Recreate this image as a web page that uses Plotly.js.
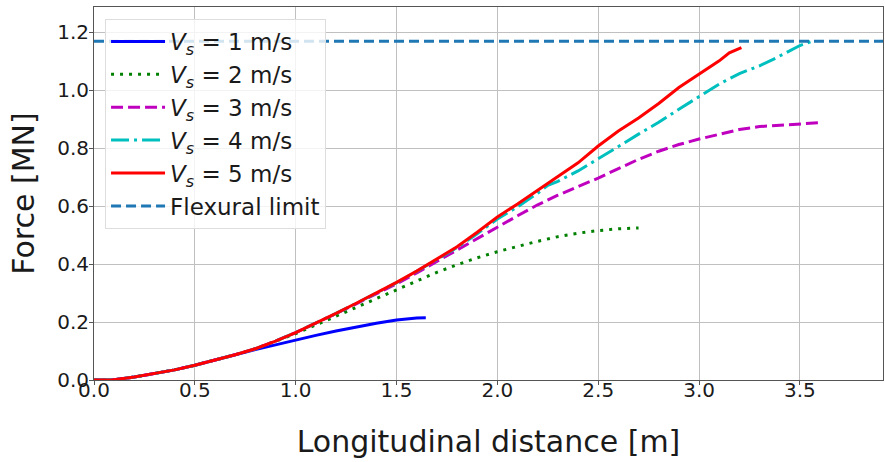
<!DOCTYPE html>
<html>
<head>
<meta charset="utf-8">
<script src="https://cdn.plot.ly/plotly-3.0.1.min.js"></script>
<style>html,body{margin:0;padding:0;background:#fff;}#chart{width:885px;height:462px;}</style>
</head>
<body>
<div id="chart"></div>
<script>
// Shared initial segment (all speeds coincide)
const xStart = [0, 0.05, 0.1, 0.2, 0.3, 0.4, 0.5, 0.6, 0.7];
const yStart = [0, 0, 0.001, 0.01, 0.022, 0.035, 0.051, 0.068, 0.087];

const x1 = [0.8, 0.9, 1.0, 1.1, 1.2, 1.3, 1.4, 1.5, 1.55, 1.6, 1.645];
const y1 = [0.105, 0.122, 0.138, 0.154, 0.169, 0.183, 0.196, 0.207, 0.211, 0.214, 0.215];

const x2 = [0.8, 0.9, 1.0, 1.1, 1.2, 1.3, 1.4, 1.5, 1.6, 1.7, 1.8, 1.9, 2.0, 2.1, 2.2, 2.3, 2.4, 2.5, 2.6, 2.7];
const y2 = [0.108, 0.133, 0.16, 0.19, 0.22, 0.25, 0.28, 0.31, 0.34, 0.372, 0.398, 0.422, 0.443, 0.462, 0.479, 0.495, 0.507, 0.516, 0.522, 0.525];

const x3 = [0.8, 0.9, 1.0, 1.1, 1.2, 1.3, 1.4, 1.5, 1.6, 1.7, 1.8, 1.9, 2.0, 2.1, 2.2, 2.3, 2.4, 2.5, 2.6, 2.7, 2.8, 2.9, 3.0, 3.1, 3.2, 3.3, 3.4, 3.5, 3.61];
const y3 = [0.108, 0.134, 0.164, 0.196, 0.229, 0.263, 0.298, 0.332, 0.37, 0.41, 0.447, 0.487, 0.528, 0.567, 0.605, 0.638, 0.668, 0.697, 0.73, 0.762, 0.79, 0.813, 0.832, 0.849, 0.865, 0.875, 0.88, 0.886, 0.889];

const x4 = [0.8, 0.9, 1.0, 1.1, 1.2, 1.3, 1.4, 1.5, 1.6, 1.7, 1.8, 1.9, 2.0, 2.1, 2.2, 2.25, 2.3, 2.4, 2.5, 2.6, 2.7, 2.8, 2.9, 3.0, 3.1, 3.2, 3.3, 3.37, 3.46, 3.5, 3.56];
const y4 = [0.108, 0.134, 0.164, 0.196, 0.23, 0.265, 0.3, 0.336, 0.375, 0.416, 0.457, 0.505, 0.556, 0.598, 0.645, 0.672, 0.686, 0.722, 0.763, 0.806, 0.849, 0.89, 0.935, 0.98, 1.022, 1.058, 1.085, 1.108, 1.14, 1.155, 1.17];

const x5 = [0.8, 0.9, 1.0, 1.1, 1.2, 1.3, 1.4, 1.5, 1.6, 1.7, 1.8, 1.9, 2.0, 2.1, 2.2, 2.3, 2.4, 2.5, 2.6, 2.7, 2.8, 2.9, 3.0, 3.1, 3.15, 3.21];
const y5 = [0.108, 0.134, 0.164, 0.196, 0.23, 0.265, 0.3, 0.337, 0.376, 0.418, 0.46, 0.51, 0.563, 0.608, 0.655, 0.702, 0.75, 0.808, 0.86, 0.905, 0.955, 1.01, 1.056, 1.102, 1.13, 1.148];

const flexX = [0, 3.95];
const flexY = [1.17, 1.17];

const seriesNames = ['<i>V</i><sub><i>s</i></sub> = 1 m/s', '<i>V</i><sub><i>s</i></sub> = 2 m/s',
  '<i>V</i><sub><i>s</i></sub> = 3 m/s', '<i>V</i><sub><i>s</i></sub> = 4 m/s',
  '<i>V</i><sub><i>s</i></sub> = 5 m/s', 'Flexural limit'];

const xTicks = [0.0, 0.5, 1.0, 1.5, 2.0, 2.5, 3.0, 3.5];
const yTicks = [0.0, 0.2, 0.4, 0.6, 0.8, 1.0, 1.2];

const seriesX = [x1, x2, x3, x4, x5];
const seriesY = [y1, y2, y3, y4, y5];
const colors = ['#0000ff', '#008000', '#bf00bf', '#00bfbf', '#ff0000'];
const dashes = ['solid', '3px,6px', '12px,5px', '18px,5px,3px,5px', 'solid'];

const traces = [];
for (let i = 0; i < 5; i++) {
  traces.push({
    x: xStart.concat(seriesX[i]),
    y: yStart.concat(seriesY[i]),
    type: 'scatter', mode: 'lines',
    name: seriesNames[i], legendgroup: 'g' + i,
    line: {color: colors[i], width: 3, dash: dashes[i]}
  });
}
traces.push({
  x: flexX, y: flexY, type: 'scatter', mode: 'lines',
  name: seriesNames[5], legendgroup: 'g5',
  line: {color: '#1f77b4', width: 3, dash: '10px,5px'}
});

const font = 'DejaVu Sans, sans-serif';
const layout = {
  width: 885, height: 462,
  margin: {l: 94, r: 2, t: 7, b: 82},
  paper_bgcolor: '#fff', plot_bgcolor: '#fff',
  font: {family: font, color: '#1a1a1a'},
  showlegend: true,
  legend: {
    x: 0.014, y: 0.968, xanchor: 'left', yanchor: 'top',
    bgcolor: 'rgba(255,255,255,0.8)', bordercolor: '#dddddd', borderwidth: 1,
    font: {family: font, size: 23, color: '#1a1a1a'},
    traceorder: 'grouped', tracegroupgap: 0, itemwidth: 54
  },
  xaxis: {
    range: [0, 3.912], tickvals: xTicks, ticktext: xTicks.map(v => v.toFixed(1)),
    showgrid: true, gridcolor: '#c0c0c0', gridwidth: 1,
    zeroline: false, showline: true, mirror: true, linecolor: '#555', linewidth: 1,
    ticks: 'outside', ticklen: 4, tickcolor: '#555', ticklabelstandoff: -12,
    tickfont: {family: font, size: 20, color: '#1a1a1a'},
    title: {text: 'Longitudinal distance [m]', font: {family: font, size: 30, color: '#1a1a1a'}, standoff: 29}
  },
  yaxis: {
    range: [0, 1.288], tickvals: yTicks, ticktext: yTicks.map(v => v.toFixed(1)),
    showgrid: true, gridcolor: '#c0c0c0', gridwidth: 1,
    zeroline: false, showline: true, mirror: true, linecolor: '#555', linewidth: 1,
    ticks: 'outside', ticklen: 4, tickcolor: '#555', ticklabelstandoff: -4,
    tickfont: {family: font, size: 20, color: '#1a1a1a'},
    title: {text: 'Force [MN]', font: {family: font, size: 30, color: '#1a1a1a'}, standoff: 13}
  }
};
Plotly.newPlot('chart', traces, layout, {staticPlot: true, displayModeBar: false});
</script>
</body>
</html>
